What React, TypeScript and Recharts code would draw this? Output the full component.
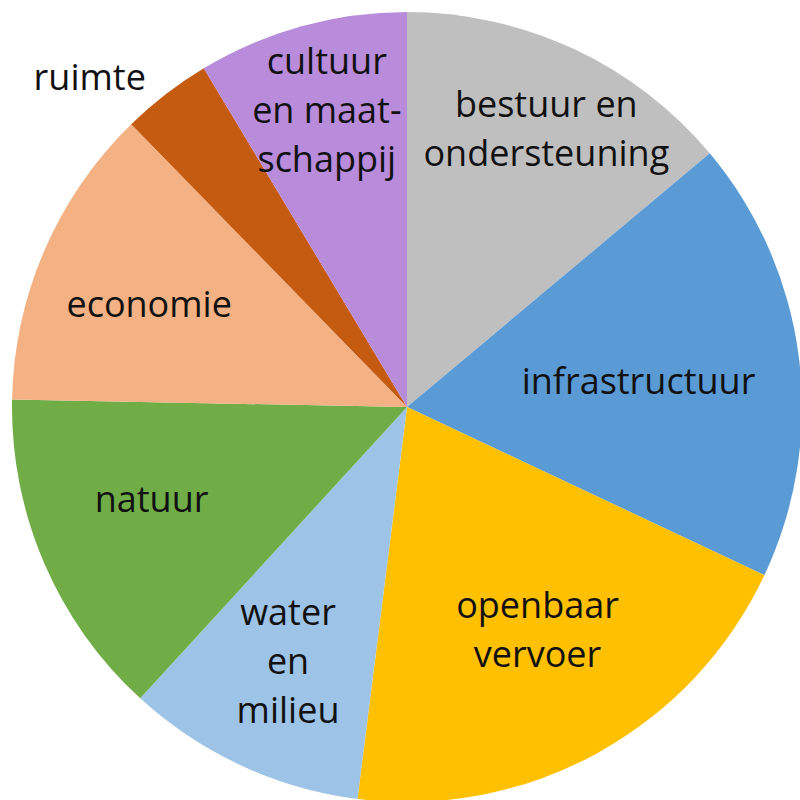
import { PieChart, Pie, Cell } from 'recharts';

// Share per policy domain (%), clockwise from 12 o'clock
const categories = [
  'bestuur en ondersteuning',
  'infrastructuur',
  'openbaar vervoer',
  'water en milieu',
  'natuur',
  'economie',
  'ruimte',
  'cultuur en maatschappij',
];
const shares = [13.9, 18.1, 20.0, 9.8, 13.5, 12.4, 3.7, 8.6];

// How each label is broken over lines
const labelLines = [
  ['bestuur en', 'ondersteuning'],
  ['infrastructuur'],
  ['openbaar', 'vervoer'],
  ['water', 'en', 'milieu'],
  ['natuur'],
  ['economie'],
  ['ruimte'],
  ['cultuur', 'en maat-', 'schappij'],
];

const colors = ['#BFBFBF', '#5B9BD5', '#FFC000', '#9DC3E6', '#70AD47', '#F4B183', '#C55A11', '#B98BDB'];

// label placement: distance as fraction of radius, and a clockwise nudge in degrees
const labelDist = [0.79, 0.59, 0.653, 0.709, 0.687, 0.703, 1.16, 0.78];
const labelNudge = [1.5, 0.8, -1.6, 0.3, 3.5, -1.6, -6.2, 0.4];

const RADIAN = Math.PI / 180;
const LINE_H = 49;

const chartData = categories.map((name, i) => ({ name, value: shares[i] }));

const renderLabel = (props: any) => {
  const { cx, cy, midAngle, outerRadius, index } = props;
  const angle = (midAngle - labelNudge[index]) * RADIAN;
  const r = outerRadius * labelDist[index];
  const x = cx + r * Math.cos(angle);
  const y = cy - r * Math.sin(angle);
  const lines = labelLines[index];
  const top = y - ((lines.length - 1) * LINE_H) / 2;
  return (
    <text
      key={`lbl-${index}`}
      x={x}
      y={top}
      textAnchor="middle"
      fill="#111"
      fontSize={36}
      fontFamily="'Open Sans', sans-serif"
    >
      {lines.map((line, j) => (
        <tspan key={j} x={x} y={top + j * LINE_H} dominantBaseline="central">
          {line}
        </tspan>
      ))}
    </text>
  );
};

export default function App() {
  return (
    <div style={{ position: 'absolute', left: 0, top: 0, width: 800, height: 800, background: '#fff' }}>
      <PieChart width={800} height={800} margin={{ top: 0, right: 0, bottom: 0, left: 0 }}>
        <Pie
          data={chartData}
          dataKey="value"
          nameKey="name"
          cx={407}
          cy={407}
          outerRadius={395}
          startAngle={90}
          endAngle={-270}
          stroke="none"
          label={renderLabel}
          labelLine={false}
          isAnimationActive={false}
        >
          {chartData.map((d, i) => (
            <Cell key={d.name} fill={colors[i]} />
          ))}
        </Pie>
      </PieChart>
    </div>
  );
}
